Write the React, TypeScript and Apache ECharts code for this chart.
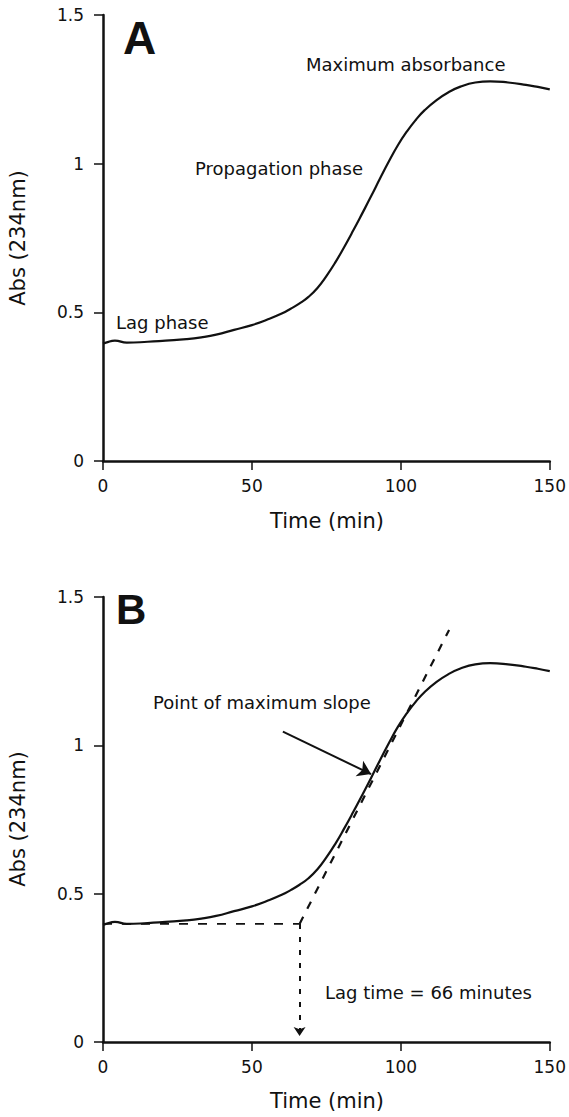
import { useEffect, useRef } from "react";
import * as echarts from "echarts";

// Conjugated-diene formation measured at 234 nm over time
const timeMin = [0, 1, 4, 8, 15, 21, 28, 33, 38, 44, 50, 55, 60, 63, 66, 69, 72, 75, 78, 81, 84, 87, 90, 93, 96, 99, 102, 105, 108, 112, 116, 120, 125, 130, 136, 142, 146, 150];
const absorbance = [0.395, 0.398, 0.405, 0.398, 0.401, 0.405, 0.41, 0.416, 0.425, 0.441, 0.457, 0.475, 0.496, 0.512, 0.53, 0.552, 0.582, 0.622, 0.668, 0.72, 0.775, 0.832, 0.89, 0.95, 1.008, 1.062, 1.108, 1.147, 1.18, 1.214, 1.24, 1.259, 1.273, 1.277, 1.273, 1.265, 1.258, 1.25];

const xTicks = { min: 0, max: 150, interval: 50 };
const yTicks = { min: 0, max: 1.5, interval: 0.5 };

// Lag-time construction (panel B)
const lagTime = 66;
const lagAbs = 0.398;
const tangentEnd = [116.2, 1.389];
const dropEnd = 0.02;
const slopeArrowFrom = [60.4, 1.046];
const slopeArrowTo = [90, 0.903];

const INK = "#111";
const FONT = "DejaVu Sans";

export default function App() {
  const ref = useRef<HTMLDivElement>(null);

  useEffect(() => {
    const chart = echarts.init(ref.current!, null, { renderer: "svg" });
    const curve = timeMin.map((t, i) => [t, absorbance[i]]);

    const xAxis = (gridIndex: number) => ({
      type: "value",
      gridIndex,
      ...xTicks,
      axisLine: { show: true, onZero: false, lineStyle: { color: INK, width: 2.5 } },
      axisTick: { show: true, inside: false, length: 9, lineStyle: { color: INK, width: 1.5 } },
      axisLabel: { color: INK, fontFamily: FONT, fontSize: 17, margin: 16 },
      splitLine: { show: false },
    });
    const yAxis = (gridIndex: number) => ({
      type: "value",
      gridIndex,
      ...yTicks,
      axisLine: { show: true, onZero: false, lineStyle: { color: INK, width: 2.5 } },
      axisTick: { show: true, inside: false, length: 9, lineStyle: { color: INK, width: 1.5 } },
      axisLabel: { color: INK, fontFamily: FONT, fontSize: 17, margin: 19 },
      splitLine: { show: false },
    });

    const note = (text: string, x: number, y: number, size = 18) => ({
      type: "text",
      x,
      y,
      style: { text, fill: INK, font: `${size}px "${FONT}"`, align: "left", verticalAlign: "middle" },
    });
    const panel = (text: string, x: number, y: number, size: number) => ({
      type: "text",
      x,
      y,
      style: { text, fill: INK, font: `bold ${size}px "Liberation Sans", Arial`, align: "left", verticalAlign: "middle" },
    });
    const yTitle = (cy: number) => ({
      type: "text",
      x: 18,
      y: cy,
      rotation: Math.PI / 2,
      style: { text: "Abs (234nm)", fill: INK, font: `21px "${FONT}"`, align: "center", verticalAlign: "middle" },
    });
    const xTitle = (cy: number) => ({
      type: "text",
      x: 327,
      y: cy,
      style: { text: "Time (min)", fill: INK, font: `21px "${FONT}"`, align: "center", verticalAlign: "middle" },
    });

    chart.setOption({
      animation: false,
      backgroundColor: "#fff",
      textStyle: { fontFamily: FONT },
      grid: [
        { left: 103, top: 15, width: 448, height: 446 },
        { left: 103, top: 597, width: 448, height: 445 },
      ],
      xAxis: [xAxis(0), xAxis(1)],
      yAxis: [yAxis(0), yAxis(1)],
      series: [
        {
          type: "line",
          xAxisIndex: 0,
          yAxisIndex: 0,
          data: curve,
          smooth: 0.5,
          showSymbol: false,
          silent: true,
          lineStyle: { color: INK, width: 2.2 },
        },
        {
          type: "line",
          xAxisIndex: 1,
          yAxisIndex: 1,
          data: [[0, lagAbs], [lagTime, lagAbs]],
          showSymbol: false,
          silent: true,
          lineStyle: { color: INK, width: 1.8, type: [9, 10] },
        },
        {
          type: "line",
          xAxisIndex: 1,
          yAxisIndex: 1,
          data: [[lagTime, lagAbs], tangentEnd],
          showSymbol: false,
          silent: true,
          lineStyle: { color: INK, width: 2.2, type: [8, 9] },
        },
        {
          type: "line",
          xAxisIndex: 1,
          yAxisIndex: 1,
          data: curve,
          smooth: 0.5,
          showSymbol: false,
          silent: true,
          lineStyle: { color: INK, width: 2.2 },
          markLine: {
            silent: true,
            animation: false,
            symbol: ["none", "arrow"],
            label: { show: false },
            emphasis: { disabled: true },
            data: [
              [
                { coord: slopeArrowFrom, symbol: "none", lineStyle: { color: INK, width: 2, type: "solid" } },
                { coord: slopeArrowTo, symbol: "arrow", symbolSize: 13, lineStyle: { color: INK, width: 2, type: "solid" } },
              ],
              [
                { coord: [lagTime, lagAbs], symbol: "none", lineStyle: { color: INK, width: 2, type: [5, 8] } },
                { coord: [lagTime, dropEnd], symbol: "arrow", symbolSize: 9, lineStyle: { color: INK, width: 2, type: [5, 8] } },
              ],
            ],
          },
        },
      ],
      graphic: [
        panel("A", 123, 38, 46),
        panel("B", 116, 609, 42),
        note("Maximum absorbance", 306, 64),
        note("Propagation phase", 195, 168),
        note("Lag phase", 116, 322),
        note("Point of maximum slope", 153, 702),
        note("Lag time = 66 minutes", 325, 992),
        yTitle(238),
        yTitle(819),
        xTitle(521),
        xTitle(1101),
      ],
    });

    return () => chart.dispose();
  }, []);

  return (
    <div
      ref={ref}
      style={{ position: "absolute", left: 0, top: 0, width: 569, height: 1117, background: "#fff" }}
    />
  );
}
